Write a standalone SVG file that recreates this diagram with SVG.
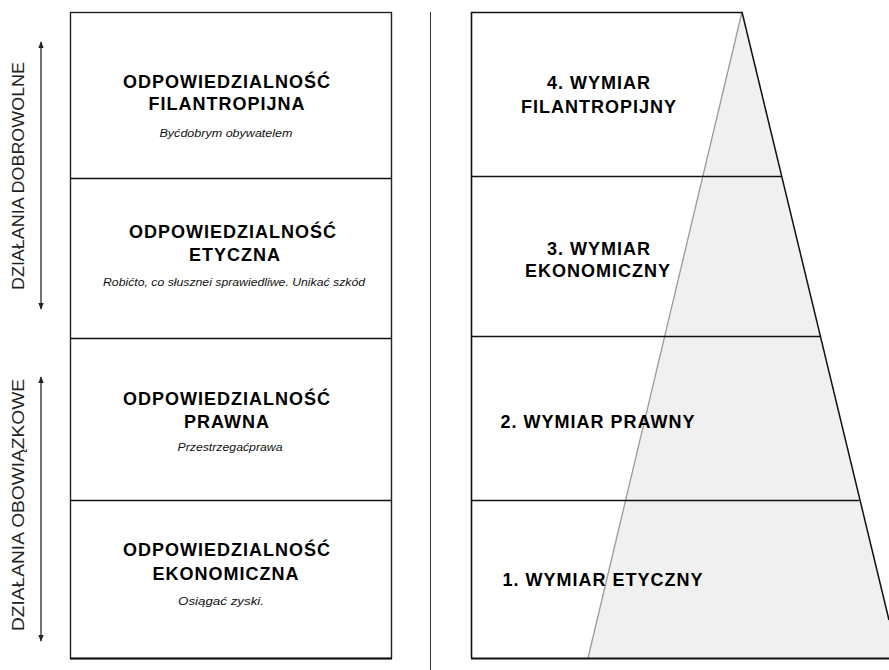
<svg xmlns="http://www.w3.org/2000/svg" width="889" height="670" viewBox="0 0 889 670">
<defs>
<marker id="ah" viewBox="0 0 10 10" refX="9" refY="5" markerWidth="7" markerHeight="7" orient="auto-start-reverse" markerUnits="userSpaceOnUse">
<path d="M0,1 L10,5 L0,9 Z" fill="#222"/>
</marker>
<style>
.box{fill:#fff;stroke:#222;stroke-width:1.4}
.ln{stroke:#111;stroke-width:1.6;fill:none}
.t{font-family:"Liberation Sans",Arial,sans-serif;font-weight:bold;font-size:18px;letter-spacing:1px;fill:#000;text-anchor:middle}
.i{font-family:"Liberation Sans",Arial,sans-serif;font-style:italic;font-size:11.5px;fill:#111;text-anchor:middle}
.side{font-family:"Liberation Sans",Arial,sans-serif;font-size:16.5px;fill:#222;text-anchor:middle}
.arr{stroke:#444;stroke-width:1.5;fill:none}
</style>
</defs>
<rect width="889" height="670" fill="#fff"/>

<g id="left-column">
<rect class="box" x="70.5" y="12.5" width="321" height="646"/>
<line x1="70" y1="658.5" x2="392" y2="658.5" stroke="#111" stroke-width="2.2"/>
</g>

<g id="node-filantropijna">
<line class="ln" x1="70" y1="178.5" x2="392" y2="178.5"/>
<text class="t" x="227" y="88">ODPOWIEDZIALNOŚĆ</text>
<text class="t" x="227" y="110">FILANTROPIJNA</text>
<text class="i" x="226" y="137" textLength="133" lengthAdjust="spacingAndGlyphs">Byćdobrym obywatelem</text>
</g>

<g id="node-etyczna">
<line class="ln" x1="70" y1="338.5" x2="392" y2="338.5"/>
<text class="t" x="233" y="238">ODPOWIEDZIALNOŚĆ</text>
<text class="t" x="235" y="261">ETYCZNA</text>
<text class="i" x="234" y="286" textLength="262" lengthAdjust="spacingAndGlyphs">Robićto, co słusznei sprawiedliwe. Unikać szkód</text>
</g>

<g id="node-prawna">
<line class="ln" x1="70" y1="500.5" x2="392" y2="500.5"/>
<text class="t" x="227" y="405">ODPOWIEDZIALNOŚĆ</text>
<text class="t" x="227" y="428">PRAWNA</text>
<text class="i" x="230" y="451" textLength="105" lengthAdjust="spacingAndGlyphs">Przestrzegaćprawa</text>
</g>

<g id="node-ekonomiczna">
<text class="t" x="227" y="556">ODPOWIEDZIALNOŚĆ</text>
<text class="t" x="226" y="580">EKONOMICZNA</text>
<text class="i" x="221" y="605" textLength="86" lengthAdjust="spacingAndGlyphs">Osiągać zyski.</text>
</g>

<g id="separator">
<line x1="430.5" y1="12" x2="430.5" y2="670" stroke="#333" stroke-width="1"/>
</g>

<g id="pyramid">
<polygon points="742,12 889,620 889,658 588,658" fill="#f0f0f0"/>
<line x1="742" y1="12" x2="588" y2="658" stroke="#9a9a9a" stroke-width="1.3"/>
<line x1="742" y1="12" x2="889" y2="620" stroke="#111" stroke-width="1.5"/>
<line class="ln" x1="471" y1="12.5" x2="742" y2="12.5"/>
<line class="ln" x1="471.5" y1="12" x2="471.5" y2="658"/>
<line x1="471" y1="658.5" x2="889" y2="658.5" stroke="#111" stroke-width="2.2"/>
</g>

<g id="wymiar-4">
<line class="ln" x1="471" y1="176.5" x2="781" y2="176.5"/>
<text class="t" x="599" y="89">4. WYMIAR</text>
<text class="t" x="599" y="113">FILANTROPIJNY</text>
</g>

<g id="wymiar-3">
<line class="ln" x1="471" y1="336.5" x2="820" y2="336.5"/>
<text class="t" x="599" y="255">3. WYMIAR</text>
<text class="t" x="598" y="277">EKONOMICZNY</text>
</g>

<g id="wymiar-2">
<line class="ln" x1="471" y1="500.5" x2="859" y2="500.5"/>
<text class="t" x="598" y="428">2. WYMIAR PRAWNY</text>
</g>

<g id="wymiar-1">
<text class="t" x="603" y="586">1. WYMIAR ETYCZNY</text>
</g>

<g id="label-dobrowolne">
<text class="side" transform="translate(24,176) rotate(-90)" textLength="228" lengthAdjust="spacingAndGlyphs">DZIAŁANIA DOBROWOLNE</text>
</g>

<g id="label-obowiazkowe">
<text class="side" transform="translate(24,505) rotate(-90)" textLength="252" lengthAdjust="spacingAndGlyphs">DZIAŁANIA OBOWIĄZKOWE</text>
</g>

<g id="connectors">
<line class="arr" x1="41" y1="42" x2="41" y2="309" marker-start="url(#ah)" marker-end="url(#ah)"/>
<line class="arr" x1="41" y1="377" x2="41" y2="641" marker-start="url(#ah)" marker-end="url(#ah)"/>
</g>
</svg>
